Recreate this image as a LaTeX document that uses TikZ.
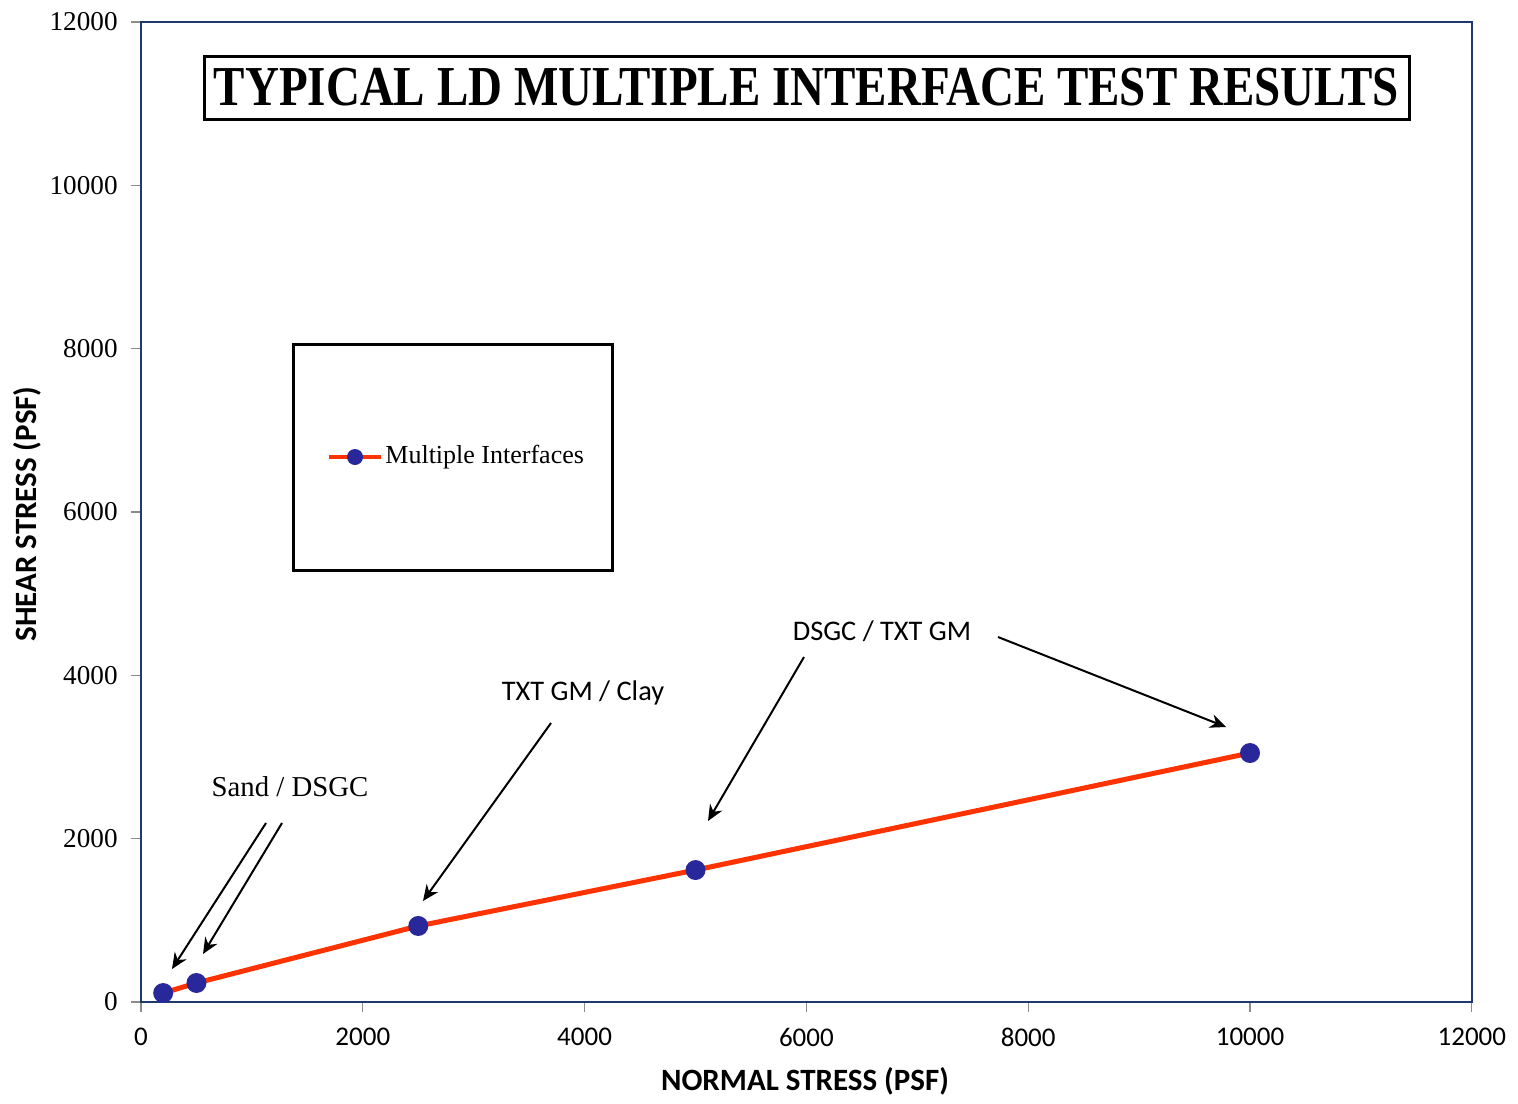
\documentclass[tikz,border=0pt]{standalone}
\usepackage{fontspec}
\setmainfont{Liberation Serif}
\newfontfamily\calibrifont{Carlito}
\usetikzlibrary{arrows.meta, positioning}

\definecolor{axisblue}{RGB}{31,56,110}
\definecolor{tickgray}{RGB}{140,140,140}
\definecolor{fitred}{RGB}{255,51,0}
\definecolor{dotblue}{RGB}{40,40,155}

\begin{document}
\begin{tikzpicture}[x=0.5pt, y=-0.5pt, >={Stealth[length=8pt, width=7pt]},
  datadot/.style={circle, fill=dotblue, inner sep=0pt, minimum size=10pt},
  callout/.style={->, line width=1pt, black},
  ytick/.style={font=\fontsize{13.6}{16}\selectfont, anchor=east, inner sep=0pt},
  xtick/.style={font=\calibrifont\fontsize{13.5}{16}\selectfont},
  notefont/.style={font=\calibrifont\fontsize{14.2}{17}\selectfont},
  boxed/.style={draw=black, line width=1.5pt, inner sep=0pt}
]
  \useasboundingbox (0,0) rectangle (1518,1103);

  % Plot area in data units (psf)
  \begin{scope}[shift={(141,1002)}, x=0.055458pt, y=0.040833pt]
    % ticks and tick labels
    \foreach \v in {0,2000,...,12000} {
      \draw[tickgray, line width=0.6pt] (\v,0) -- ++(0,-5pt);
      \draw[tickgray, line width=0.6pt] (0,\v) -- ++(-5pt,0);
      \node[xtick, yshift=-17.5pt] (xl\v) at (\v,0) {\v};
      \node[ytick, xshift=-11.5pt] (yl\v) at (0,\v) {\v};
    }
    \draw[axisblue, line width=1pt] (0,0) rectangle (12000,12000);

    % test results
    \coordinate (p1) at (200,110);
    \coordinate (p2) at (500,233);
    \coordinate (p3) at (2500,931);
    \coordinate (p4) at (5000,1616);
    \coordinate (p5) at (10000,3049);
    \draw[fitred, line width=2.5pt] (p1) -- (p2) -- (p3) -- (p4) -- (p5);
    \foreach \p in {1,...,5}
      \node[datadot] (d\p) at (p\p) {};
  \end{scope}

  % Title and legend
  \node[boxed, minimum width=602.5pt, minimum height=31.5pt,
    font=\bfseries\fontsize{23.5}{26}\selectfont] (title) at (806.5,87.5)
    {\scalebox{1}[1.2]{TYPICAL LD MULTIPLE INTERFACE TEST RESULTS}};
  \node[boxed, minimum width=159.5pt, minimum height=113pt] (legend) at (452.5,457) {};
  \draw[fitred, line width=2pt] (329,457) -- (381,457);
  \node[datadot, minimum size=8pt] (legdot) at (355,457) {};
  \node[anchor=west, inner sep=0pt, font=\fontsize{13}{15}\selectfont] (legtext) at (385,457)
    {Multiple Interfaces};

  % Axis titles
  \node[font=\calibrifont\bfseries\fontsize{15.5}{18}\selectfont] (xtitle) at (805,1081)
    {NORMAL STRESS (PSF)};
  \node[font=\calibrifont\bfseries\fontsize{15.5}{18}\selectfont, rotate=90] (ytitle) at (27,514)
    {SHEAR STRESS (PSF)};

  % Interface labels with their arrows
  \node[font=\fontsize{14.4}{17}\selectfont] (sand) at (290,787) {Sand / DSGC};
  \node[notefont] (clay) at (583,693) {TXT GM / Clay};
  \node[notefont] (dsgc) at (882,631) {DSGC / TXT GM};

  \coordinate (sandA) at (266,823);  \coordinate (sandAtip) at (172,969);
  \coordinate (sandB) at (282,823);  \coordinate (sandBtip) at (203,954);
  \coordinate (clayA) at (551,723);  \coordinate (clayAtip) at (423,901);
  \coordinate (dsgcA) at (804,657);  \coordinate (dsgcAtip) at (708,821);
  \coordinate (dsgcB) at (998,637);  \coordinate (dsgcBtip) at (1226,727);

  \draw[callout] (sandA) -- (sandAtip);
  \draw[callout] (sandB) -- (sandBtip);
  \draw[callout] (clayA) -- (clayAtip);
  \draw[callout] (dsgcA) -- (dsgcAtip);
  \draw[callout] (dsgcB) -- (dsgcBtip);
\end{tikzpicture}
\end{document}
